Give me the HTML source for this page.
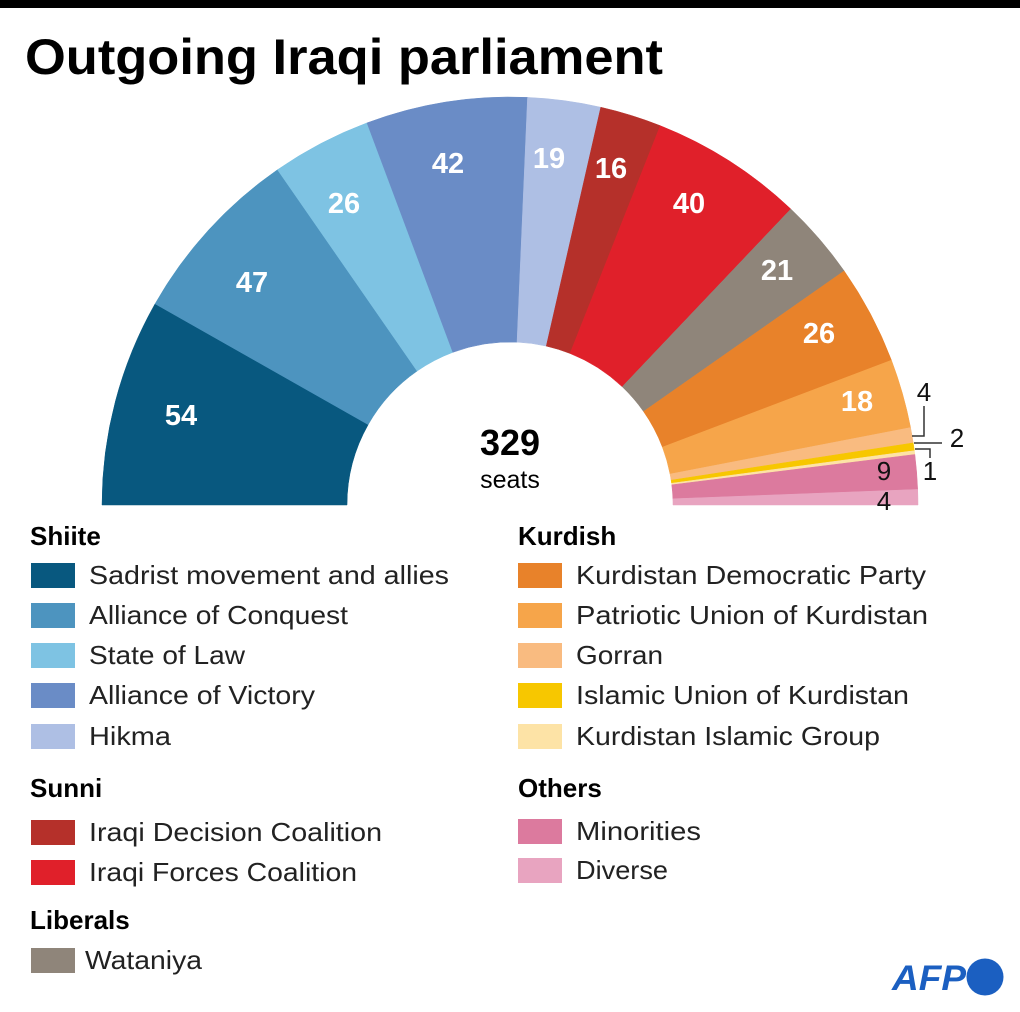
<!DOCTYPE html>
<html><head><meta charset="utf-8"><style>
html,body{margin:0;padding:0;background:#fff}
svg{display:block}
text{font-family:"Liberation Sans",sans-serif}
</style></head><body>
<svg id="s" width="1020" height="1012" viewBox="0 0 1020 1012" xmlns="http://www.w3.org/2000/svg">
<rect x="0" y="0" width="1020" height="8" fill="#000"/>
<text x="25" y="74" font-size="50" font-weight="bold" textLength="638" lengthAdjust="spacingAndGlyphs">Outgoing Iraqi parliament</text>
<g id="arcs"></g>
<g font-size="29" font-weight="bold" fill="#fff" text-anchor="middle">
<text x="181" y="425">54</text>
<text x="252" y="292">47</text>
<text x="344" y="213">26</text>
<text x="448" y="173">42</text>
<text x="549" y="168">19</text>
<text x="611" y="178">16</text>
<text x="689" y="213">40</text>
<text x="777" y="280">21</text>
<text x="819" y="343">26</text>
<text x="857" y="411">18</text>
</g>
<g font-size="26" fill="#111" text-anchor="middle">
<text x="924" y="401">4</text>
<text x="957" y="447">2</text>
<text x="930" y="480">1</text>
<text x="884" y="480">9</text>
<text x="884" y="510">4</text>
</g>
<g stroke="#333" stroke-width="1.5" fill="none">
<polyline points="912,436 924,436 924,406"/>
<polyline points="914,443 942,443"/>
<polyline points="915,449 930,449 930,458"/>
</g>
<text x="510" y="455" font-size="36" font-weight="bold" text-anchor="middle">329</text>
<text x="510" y="488" font-size="25" text-anchor="middle">seats</text>

<g font-size="26" font-weight="bold">
<text x="30" y="545">Shiite</text>
<text x="30" y="797">Sunni</text>
<text x="30" y="929">Liberals</text>
<text x="518" y="545">Kurdish</text>
<text x="518" y="797">Others</text>
</g>
<g font-size="26" fill="#222">
<rect x="31" y="563" width="44" height="25" fill="#08587f"/><text x="89" y="584" textLength="360" lengthAdjust="spacingAndGlyphs">Sadrist movement and allies</text>
<rect x="31" y="603" width="44" height="25" fill="#4d94bf"/><text x="89" y="624" textLength="259" lengthAdjust="spacingAndGlyphs">Alliance of Conquest</text>
<rect x="31" y="643" width="44" height="25" fill="#7ec3e3"/><text x="89" y="664" textLength="156" lengthAdjust="spacingAndGlyphs">State of Law</text>
<rect x="31" y="683" width="44" height="25" fill="#6a8cc6"/><text x="89" y="704" textLength="226" lengthAdjust="spacingAndGlyphs">Alliance of Victory</text>
<rect x="31" y="724" width="44" height="25" fill="#aebfe4"/><text x="89" y="745" textLength="82" lengthAdjust="spacingAndGlyphs">Hikma</text>
<rect x="31" y="820" width="44" height="25" fill="#b5302a"/><text x="89" y="841" textLength="293" lengthAdjust="spacingAndGlyphs">Iraqi Decision Coalition</text>
<rect x="31" y="860" width="44" height="25" fill="#e0202a"/><text x="89" y="881" textLength="268" lengthAdjust="spacingAndGlyphs">Iraqi Forces Coalition</text>
<rect x="31" y="948" width="44" height="25" fill="#8f857a"/><text x="85" y="969" textLength="117" lengthAdjust="spacingAndGlyphs">Wataniya</text>
<rect x="518" y="563" width="44" height="25" fill="#e8822a"/><text x="576" y="584" textLength="350" lengthAdjust="spacingAndGlyphs">Kurdistan Democratic Party</text>
<rect x="518" y="603" width="44" height="25" fill="#f6a54a"/><text x="576" y="624" textLength="352" lengthAdjust="spacingAndGlyphs">Patriotic Union of Kurdistan</text>
<rect x="518" y="643" width="44" height="25" fill="#f9bb80"/><text x="576" y="664" textLength="87" lengthAdjust="spacingAndGlyphs">Gorran</text>
<rect x="518" y="683" width="44" height="25" fill="#f7c700"/><text x="576" y="704" textLength="333" lengthAdjust="spacingAndGlyphs">Islamic Union of Kurdistan</text>
<rect x="518" y="724" width="44" height="25" fill="#fde3a6"/><text x="576" y="745" textLength="304" lengthAdjust="spacingAndGlyphs">Kurdistan Islamic Group</text>
<rect x="518" y="819" width="44" height="25" fill="#dc7a9e"/><text x="576" y="840" textLength="125" lengthAdjust="spacingAndGlyphs">Minorities</text>
<rect x="518" y="858" width="44" height="25" fill="#e8a4c0"/><text x="576" y="879" textLength="92" lengthAdjust="spacingAndGlyphs">Diverse</text>
</g>
<text x="892" y="990" font-size="35" font-weight="bold" font-style="italic" fill="#1b5fc1" textLength="74" lengthAdjust="spacingAndGlyphs">AFP</text>
<circle cx="985" cy="977" r="18.5" fill="#1b5fc1"/>
</svg>
<script>
(function(){
var d=[[54,"#08587f"],[47,"#4d94bf"],[26,"#7ec3e3"],[42,"#6a8cc6"],[19,"#aebfe4"],[16,"#b5302a"],[40,"#e0202a"],[21,"#8f857a"],[26,"#e8822a"],[18,"#f6a54a"],[4,"#f9bb80"],[2,"#f7c700"],[1,"#fde3a6"],[9,"#dc7a9e"],[4,"#e8a4c0"]];
var cx=510,cy=505,R=408,r=163,c=0,g=document.getElementById("arcs"),ns="http://www.w3.org/2000/svg";
function p(a,rad){return (cx+rad*Math.cos(a)).toFixed(2)+","+(cy-rad*Math.sin(a)).toFixed(2);}
d.forEach(function(s){
var a0=Math.PI-c/329*Math.PI;c+=s[0];var a1=Math.PI-c/329*Math.PI;
var e=document.createElementNS(ns,"path");
e.setAttribute("d","M"+p(a0,R)+" A"+R+","+R+" 0 0 1 "+p(a1,R)+" L"+p(a1,r)+" A"+r+","+r+" 0 0 0 "+p(a0,r)+"Z");
e.setAttribute("fill",s[1]);e.setAttribute("stroke",s[1]);e.setAttribute("stroke-width","0.5");
g.appendChild(e);});
})();
</script>
</body></html>
